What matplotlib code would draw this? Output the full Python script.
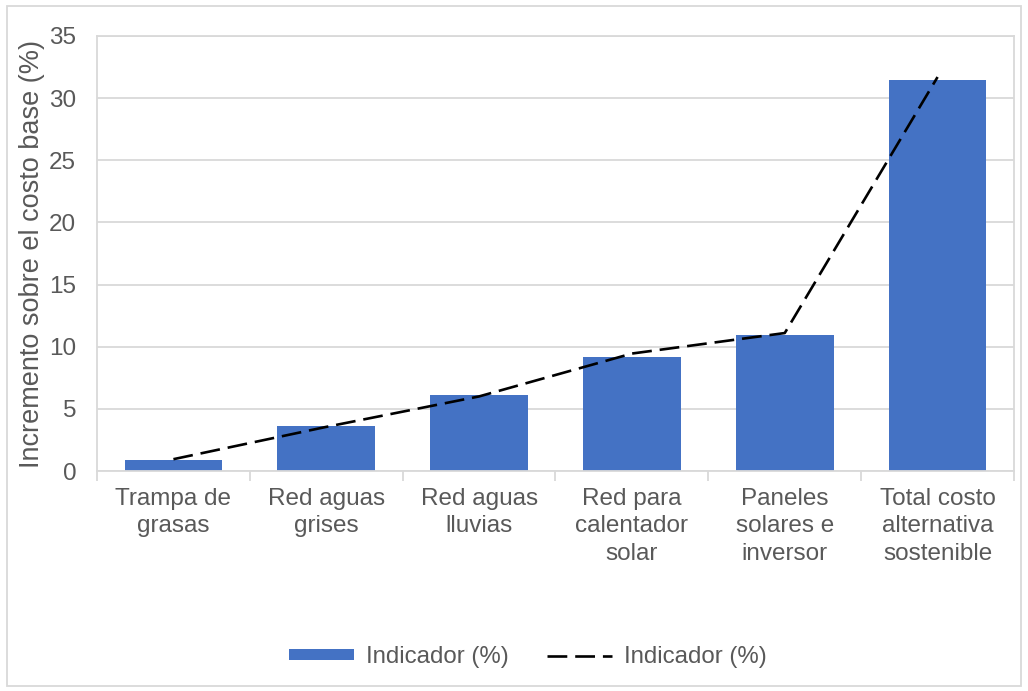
import numpy as np
import matplotlib
matplotlib.use('Agg')
import matplotlib.pyplot as plt
from matplotlib.patches import Rectangle

plt.rcParams['font.family'] = ['Liberation Sans', 'DejaVu Sans']

categories = ['Trampa de\ngrasas', 'Red aguas\ngrises', 'Red aguas\nlluvias',
              'Red para\ncalentador\nsolar', 'Paneles\nsolares e\ninversor',
              'Total costo\nalternativa\nsostenible']
bar_values = [0.85, 3.65, 6.1, 9.2, 10.95, 31.45]
line_values = [0.95, 3.55, 6.0, 9.45, 11.1, 31.7]
y_ticks = [0, 5, 10, 15, 20, 25, 30, 35]

text_color = '#595959'
grid_color = '#D9D9D9'
bar_color = '#4472C4'

fig = plt.figure(figsize=(10.28, 6.91), dpi=100)
ax = fig.add_axes([97 / 1028, 1 - 471 / 691, (1014 - 97) / 1028, (471 - 36) / 691])

x = np.arange(len(categories))
bars = ax.bar(x, bar_values, width=0.64, color=bar_color, zorder=2, label='Indicador (%)')
line, = ax.plot(x, line_values, color='black', lw=1.9, dashes=(7.5, 3), zorder=3,
                label='Indicador (%)')

ax.set_xlim(-0.5, len(categories) - 0.5)
ax.set_ylim(0, 35)
ax.set_yticks(y_ticks)
ax.yaxis.grid(True, color=grid_color, lw=1.3, zorder=0)
ax.set_axisbelow(True)

ax.set_xticks(x)
ax.set_xticklabels(categories, fontsize=17.5, color=text_color, linespacing=1.32)
ax.set_xticks(np.arange(-0.5, len(categories)), minor=True)
ax.tick_params(axis='x', which='major', length=0, pad=12)
ax.tick_params(axis='x', which='minor', length=7, color=grid_color, width=1.3)
ax.tick_params(axis='y', length=0, labelsize=17.5, labelcolor=text_color, pad=15)

ax.set_ylabel('Incremento sobre el costo base (%)', fontsize=19.5, color=text_color, labelpad=3)

for s in ax.spines.values():
    s.set_color(grid_color)
    s.set_linewidth(1.3)

fig.legend([bars, line], ['Indicador (%)', 'Indicador (%)'],
           loc='center', bbox_to_anchor=(528 / 1028, 1 - 657 / 691), ncol=2,
           frameon=False, fontsize=17.3, labelcolor=text_color,
           handlelength=2.7, handleheight=0.3, columnspacing=1.6, handletextpad=0.5)

fig.add_artist(Rectangle((7 / 1028, 1 - 686 / 691), 1014 / 1028, 680 / 691,
                         transform=fig.transFigure, fill=False, ec=grid_color, lw=1.3))

fig.savefig('out.png', dpi=100)
